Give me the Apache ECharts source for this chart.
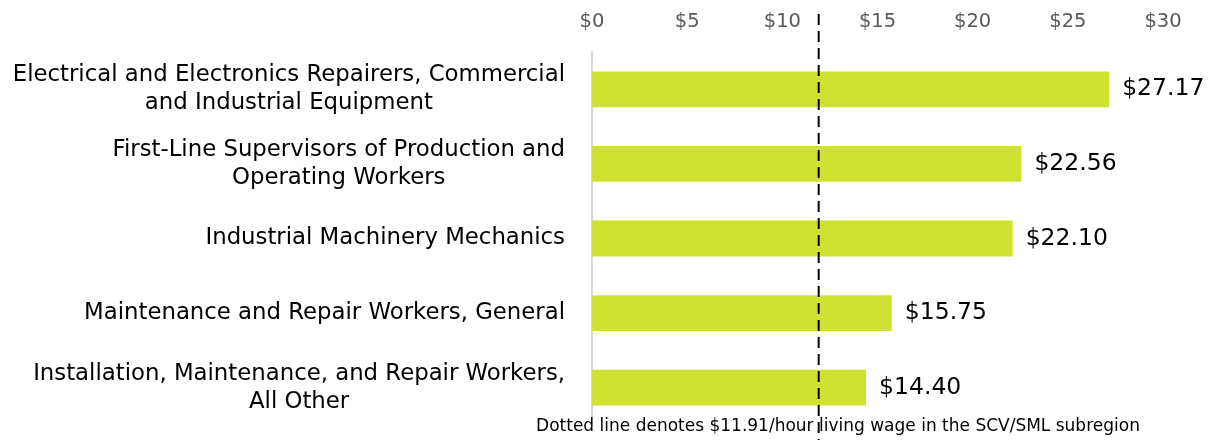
<!DOCTYPE html>
<html>
<head>
<meta charset="utf-8">
<script src="https://cdn.jsdelivr.net/npm/echarts@6/dist/echarts.min.js"></script>
<style>
    html, body { margin: 0; padding: 0; background: #fff; }
    #chart { width: 1210px; height: 441px; }
</style>
</head>
<body>
<div id="chart"></div>
<script>
var categories = [
    "Electrical and Electronics Repairers, Commercial\nand Industrial Equipment",
    "First-Line Supervisors of Production and\nOperating Workers",
    "Industrial Machinery Mechanics",
    "Maintenance and Repair Workers, General",
    "Installation, Maintenance, and Repair Workers,\nAll Other"
];
var wages = [27.17, 22.56, 22.10, 15.75, 14.40];
var livingWage = 11.91;
var axisMin = 0, axisMax = 30, axisStep = 5;
var note = "Dotted line denotes $11.91/hour living wage in the SCV/SML subregion";

var wageChart = {
    init() {
        var myChart = echarts.init(document.getElementById("chart"));
        var font = "DejaVu Sans";
        var option = {
            animation: false,
            grid: { left: 592, right: 47, top: 52, bottom: 16 },
            title: {
                text: note,
                left: 833,
                textAlign: 'center',
                bottom: 1,
                textStyle: { fontFamily: font, fontSize: 17, fontWeight: 'normal', color: '#000' }
            },
            xAxis: {
                type: 'value',
                position: 'top',
                min: axisMin,
                max: axisMax,
                interval: axisStep,
                axisLine: { show: false },
                axisTick: { show: false },
                splitLine: { show: false },
                axisLabel: {
                    margin: 20,
                    color: '#595959',
                    fontFamily: font,
                    fontSize: 19.5,
                    formatter: function (v) { return '$' + v; }
                }
            },
            yAxis: {
                type: 'category',
                inverse: true,
                data: categories,
                axisLine: { lineStyle: { color: '#d9d9d9', width: 2 } },
                axisTick: { show: false },
                axisLabel: {
                    margin: 27,
                    align: 'right',
                    formatter: function (v) {
                        return v.split('\n').map(function (s) { return '{c|' + s + '}'; }).join('\n');
                    },
                    rich: {
                        c: {
                            align: 'center',
                            color: '#000',
                            fontFamily: font,
                            fontSize: 22.8,
                            lineHeight: 28
                        }
                    }
                }
            },
            series: [{
                type: 'bar',
                data: wages,
                barCategoryGap: '52%',
                itemStyle: { color: '#cfe22f' },
                label: {
                    show: true,
                    position: 'right',
                    distance: 13,
                    color: '#000',
                    fontFamily: font,
                    fontSize: 23.5,
                    formatter: function (p) { return '$' + p.value.toFixed(2); }
                }
            }]
        };
        myChart.setOption(option, true);

        // dashed living wage line, placed through the x scale
        var x = myChart.convertToPixel({ xAxisIndex: 0 }, livingWage);
        myChart.setOption({
            graphic: [{
                type: 'line',
                shape: { x1: x, y1: 14, x2: x, y2: 440 },
                style: { stroke: '#000', lineWidth: 2, lineDash: [11, 6] },
                z: 10
            }]
        });
    }
};

wageChart.init();
</script>
</body>
</html>
